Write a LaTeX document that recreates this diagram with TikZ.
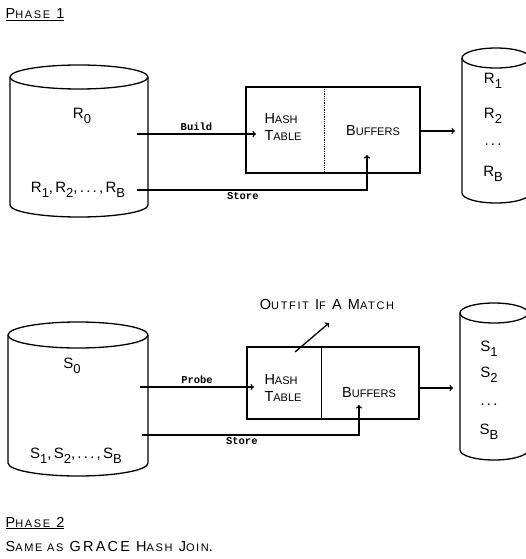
\documentclass[tikz,border=0pt]{standalone}
\usepackage{fontspec}
\setmainfont{Liberation Sans}
\newfontfamily\plotmono{Liberation Mono}
\newfontfamily\plotwide[LetterSpace=15]{Liberation Sans}
\usetikzlibrary{calc}
\newcommand{\lc}[1]{{\fontsize{11}{12}\selectfont #1}}
\newcommand{\lowsub}[1]{\raisebox{-4.5pt}{\fontsize{13}{14}\selectfont #1}}

\begin{document}
\begin{tikzpicture}[x=1pt,y=-1pt,line width=1.3pt,
    box/.style={draw, minimum width=174pt, minimum height=86pt},
    caps/.style={font=\fontsize{14.5}{17}\selectfont, inner sep=0pt, align=left},
    wide/.style={font=\plotwide\fontsize{14.5}{16}\selectfont, inner sep=0pt, anchor=west},
    flow/.style={font=\plotmono\bfseries\fontsize{10.5}{12}\selectfont, inner sep=1pt},
    part/.style={font=\plotwide\fontsize{15}{18}\selectfont, inner sep=0pt}]
    \useasboundingbox (0,0) rectangle (526,559);
    \foreach \cx/\a/\t/\b/\h in {79/69/77/205/12, 496/34/58/193/10, 78/70/335/463/13, 494/34/313/450/10} {
      \draw (\cx-\a,\t) arc[start angle=180, end angle=360, x radius=\a, y radius=\h]
        -- (\cx+\a,\b) arc[start angle=0, end angle=180, x radius=\a, y radius=\h] -- cycle;
      \draw (\cx-\a,\t) arc[start angle=180, end angle=0, x radius=\a, y radius=\h];
    }
    \node[wide] (phase1) at (5,15) {\underline{P\lc{HASE} 1}};
    \node[part] (r0) at (82,116) {R\lowsub{0}};
    \node[part] (rall) at (78,190) {R\lowsub{1},R\lowsub{2},...,R\lowsub{B}};
    \node[box] (tbl1) at (333,130) {};
    \node[caps] (hash1) at (283,127) {H\lc{ASH}\\T\lc{ABLE}};
    \node[caps] (buf1) at (373,131) {B\lc{UFFERS}};
    \draw[densely dotted] ($(tbl1.north west)+(79,0)$) -- ($(tbl1.south west)+(79,0)$);
    \node[part] (r1) at (493,81) {R\lowsub{1}};
    \node[part] (r2) at (493,116) {R\lowsub{2}};
    \node[part] (rdots) at (493,145) {...};
    \node[part] (rb) at (493,174) {R\lowsub{B}};
    \coordinate (build) at (137,134);
    \coordinate (buildend) at (256,134);
    \coordinate (store1) at (137,190);
    \coordinate (into1) at (367,155);
    \coordinate (out1) at (455,131);
    \draw[->] (build) -- (buildend) node[flow, midway, above=2pt] {Build};
    \draw[->] (store1) -- (store1 -| into1) node[flow, pos=0.46, below=1pt] {Store} -- (into1);
    \draw[->] (tbl1.east |- out1) -- (out1);

    \node[part] (s0) at (72,366) {S\lowsub{0}};
    \node[part] (sall) at (76,456) {S\lowsub{1},S\lowsub{2},...,S\lowsub{B}};
    \node[box, minimum width=172pt, minimum height=72pt] (tbl2) at (333,383) {};
    \node[caps] (hash2) at (283,388) {H\lc{ASH}\\T\lc{ABLE}};
    \node[caps] (buf2) at (369,393) {B\lc{UFFERS}};
    \draw ($(tbl2.north west)+(75,0)$) -- ($(tbl2.south west)+(75,0)$);
    \node[wide, anchor=center] (outfit) at (327,305) {O\lc{UTFIT} I\lc{F} A M\lc{ATCH}};
    \node[part] (s1) at (489,349) {S\lowsub{1}};
    \node[part] (s2) at (489,375) {S\lowsub{2}};
    \node[part] (sdots) at (489,405) {...};
    \node[part] (sb) at (489,432) {S\lowsub{B}};
    \coordinate (probe) at (140,387);
    \coordinate (probeend) at (254,387);
    \coordinate (store2) at (142,435);
    \coordinate (into2) at (359,405);
    \coordinate (match) at (295,352);
    \coordinate (matchend) at (329,323);
    \coordinate (out2) at (453,388);
    \draw[->] (probe) -- (probeend) node[flow, midway, above=2pt] {Probe};
    \draw[->] (store2) -- (store2 -| into2) node[flow, pos=0.46, below=1pt] {Store} -- (into2);
    \draw[->] (match) -- (matchend);
    \draw[->] (tbl2.east |- out2) -- (out2);

    \node[wide] (phase2) at (5,523) {\underline{P\lc{HASE} 2}};
    \node[wide] (same) at (5,547) {S\lc{AME AS} GRACE H\lc{ASH} J\lc{OIN}.};
  \end{tikzpicture}
\end{document}
